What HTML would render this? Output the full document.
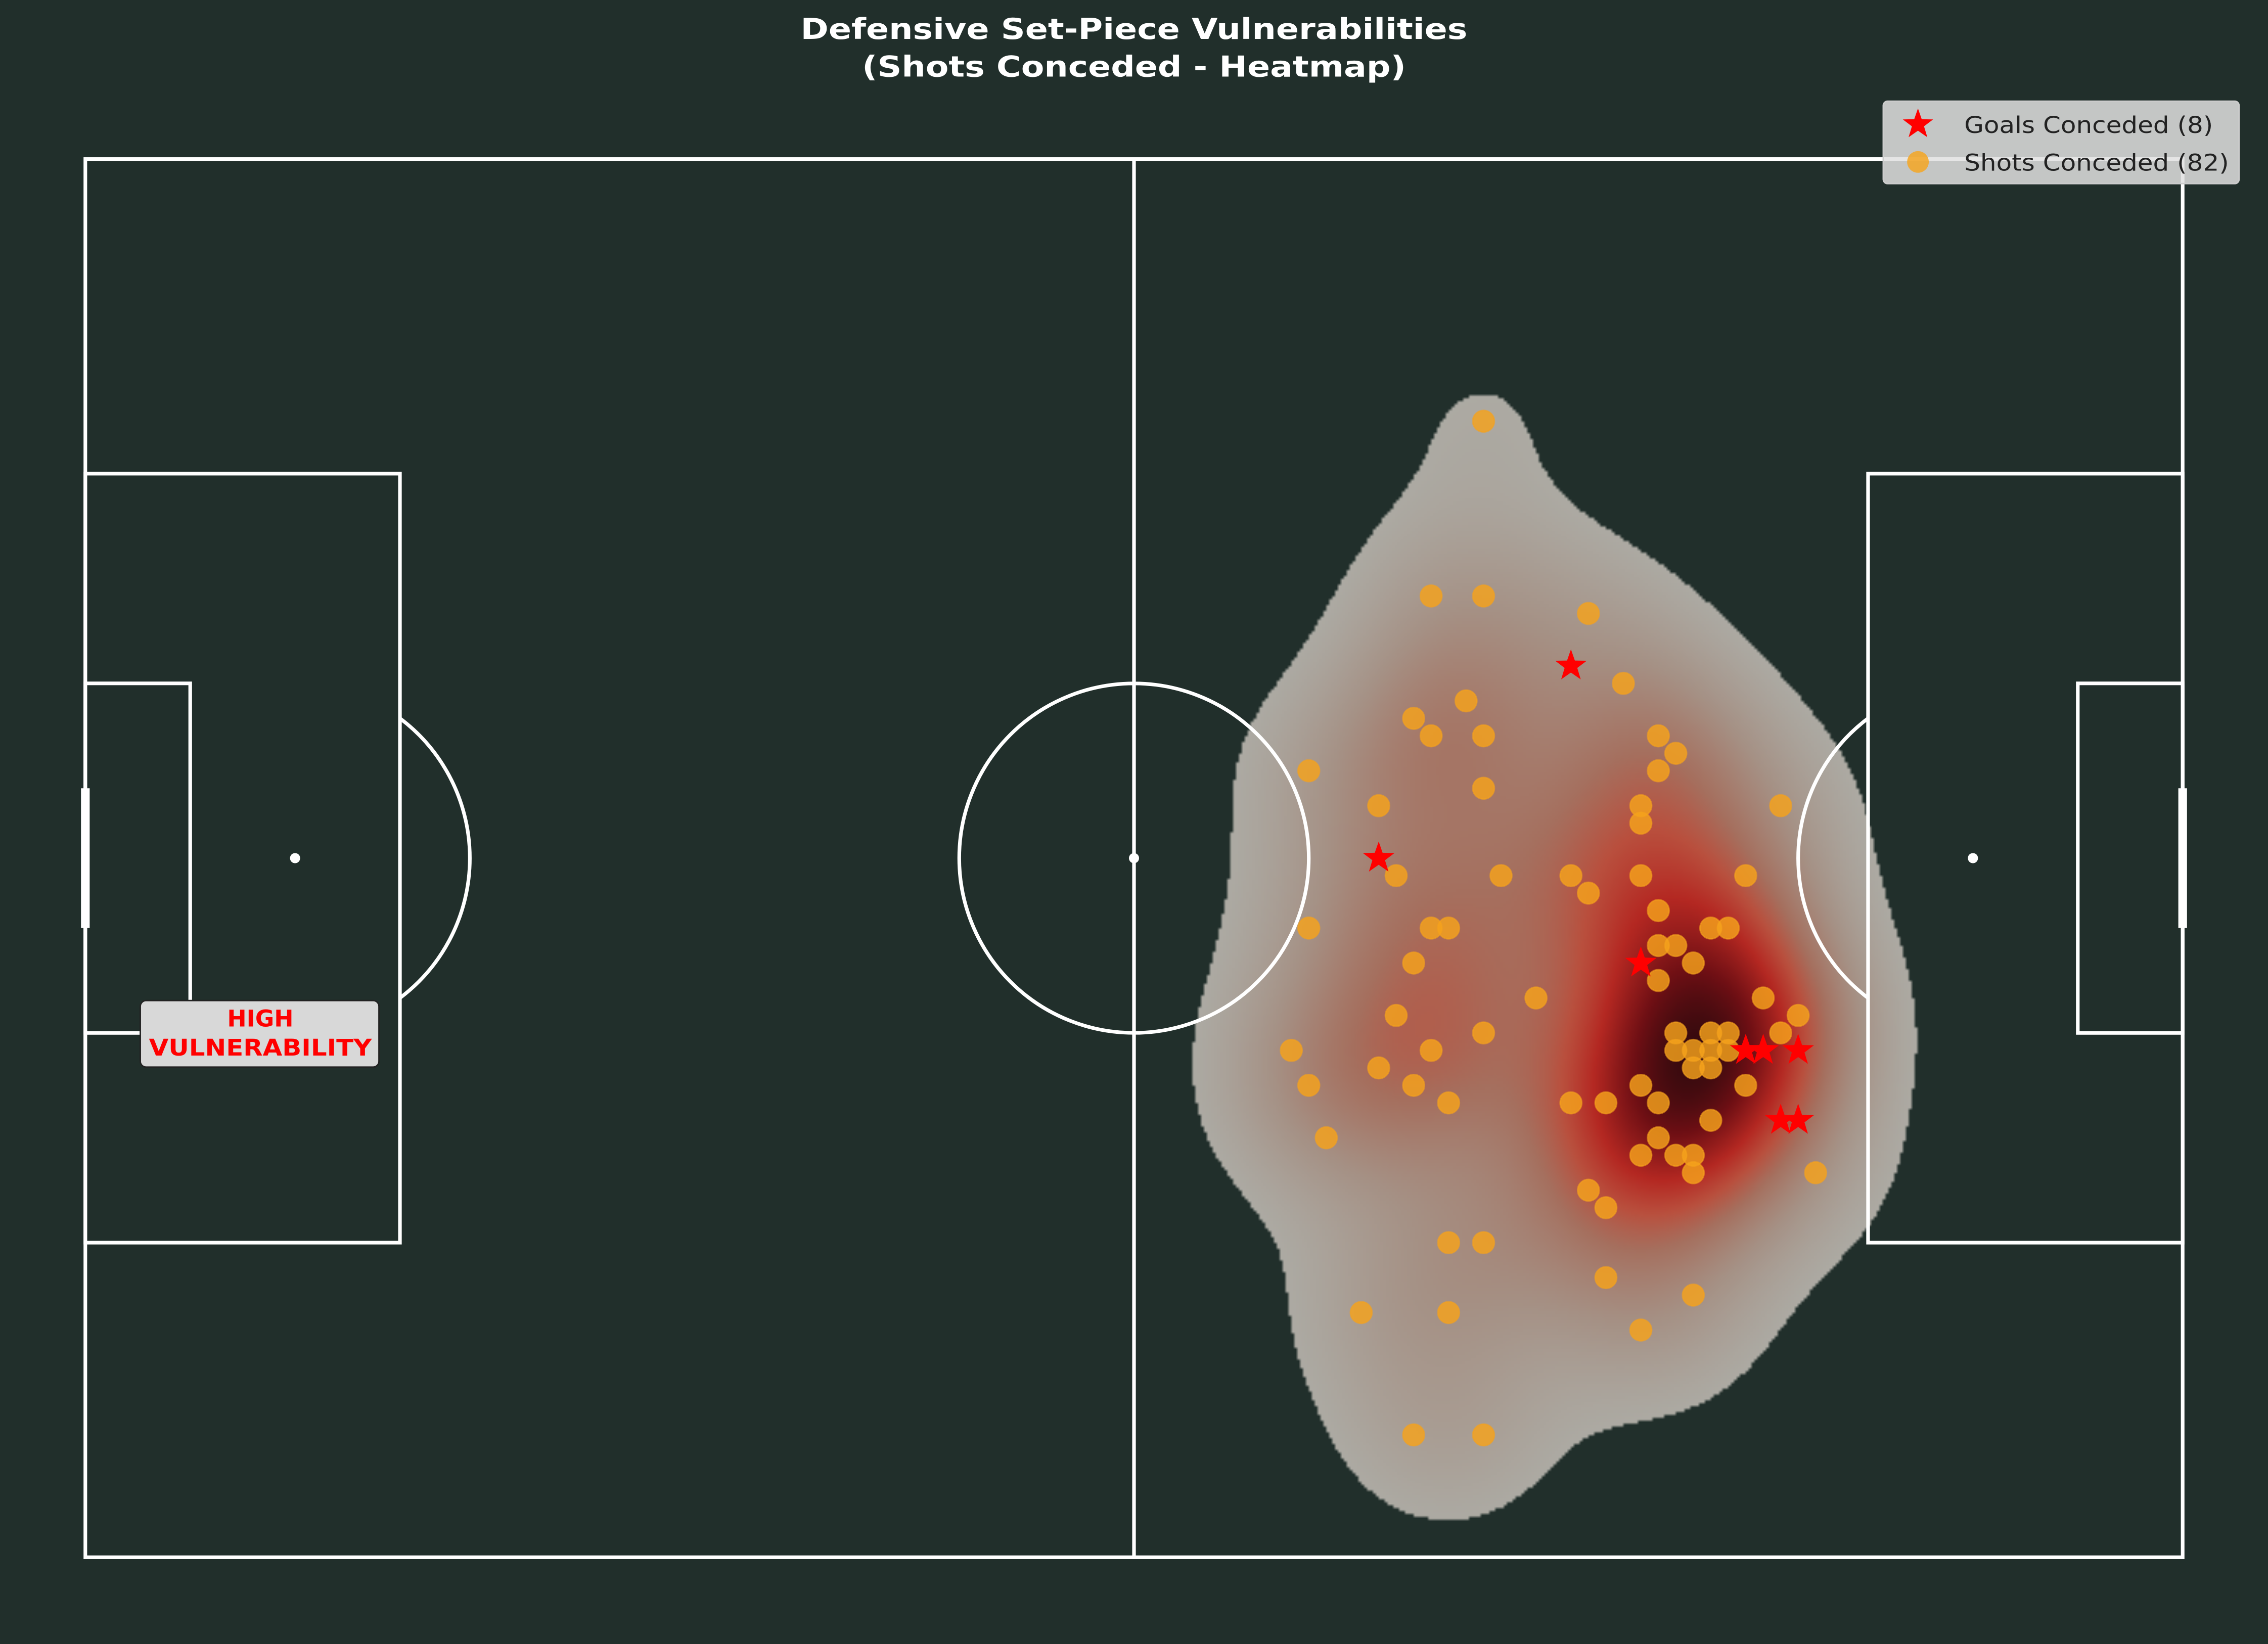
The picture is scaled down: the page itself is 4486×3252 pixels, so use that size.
<!DOCTYPE html>
<html><head><meta charset="utf-8"><style>
html,body{margin:0;padding:0;background:#212f2b;}
#wrap{position:relative;width:4486px;height:3252px;background:#212f2b;overflow:hidden;}
#heat{position:absolute;}
#svg{position:absolute;left:0;top:0;}
</style></head><body>
<div id="wrap">
<canvas id="heat"></canvas>
<svg id="svg" width="4486" height="3252" viewBox="0 0 1568 1137" preserveAspectRatio="none">
<text x="784" y="27" text-anchor="middle" fill="#fff" font-family="DejaVu Sans, sans-serif" font-weight="bold" font-size="20" textLength="461" lengthAdjust="spacingAndGlyphs">Defensive Set-Piece Vulnerabilities</text>
<text x="784" y="53" text-anchor="middle" fill="#fff" font-family="DejaVu Sans, sans-serif" font-weight="bold" font-size="20" textLength="376" lengthAdjust="spacingAndGlyphs">(Shots Conceded - Heatmap)</text>
<g id="lines" fill="none" stroke="#fff" stroke-width="2.5"></g>
<g id="marks"></g>
<g>
<rect x="1302" y="70" width="246" height="57" rx="3" fill="#e0e0e0" fill-opacity="0.85" stroke="#ccc"/>
<g>
<path id="legstar" fill="#ff0000"/>
<text x="1358" y="92" font-family="DejaVu Sans, sans-serif" font-size="16" fill="#222" textLength="172" lengthAdjust="spacingAndGlyphs">Goals Conceded (8)</text>
</g>
<g>
<circle cx="1326" cy="112" r="7.5" fill="#f5a623" fill-opacity="0.85"/>
<text x="1358" y="118" font-family="DejaVu Sans, sans-serif" font-size="16" fill="#222" textLength="183" lengthAdjust="spacingAndGlyphs">Shots Conceded (82)</text>
</g>
</g>
<g>
<rect x="97" y="692" width="165" height="46" rx="4" fill="#d8d8d8" stroke="#222" stroke-width="1"/>
<text x="180" y="710" text-anchor="middle" fill="#ff0000" font-family="DejaVu Sans, sans-serif" font-weight="bold" font-size="16">HIGH</text>
<text x="180" y="730" text-anchor="middle" fill="#ff0000" font-family="DejaVu Sans, sans-serif" font-weight="bold" font-size="16" textLength="154" lengthAdjust="spacingAndGlyphs">VULNERABILITY</text>
</g>
</svg>
</div>
<script>
const shotX=[80,77,80,86,88,76,79,77,80,90,91,70,90,74,80,89,89,97,75,81,85,86,89,95,70,77,78,90,93,94,76,90,91,92,90,83,96,75,98,80,91,93,94,97,69,77,91,92,93,94,74,92,93,70,76,89,95,78,85,87,90,93,71,90,89,91,92,92,99,86,87,78,80,87,92,73,78,89,76,80];
const shotY=[15,25,25,26,30,32,31,33,33,33,34,35,35,37,36,37,38,37,41,41,41,42,41,41,44,44,44,43,44,44,46,45,45,46,47,48,48,49,49,50,50,50,50,50,51,51,51,51,51,51,52,52,52,53,53,53,53,54,54,54,54,55,56,56,57,57,57,58,58,59,60,62,62,64,65,66,66,67,73,73];
const goalX=[85,74,89,95,96,98,97,98];
const goalY=[29,40,46,51,51,51,55,55];

const NS="http://www.w3.org/2000/svg";
const X0=59,Y0=110,SX=1450/120,SY=967/80;
function px(x){return X0+x*SX;}
function py(y){return Y0+y*SY;}
function mk(t,a,p){const e=document.createElementNS(NS,t);for(const k in a)e.setAttribute(k,a[k]);p.appendChild(e);return e;}
const L=document.getElementById('lines');
function rect(x,y,w,h,n){const e=mk('rect',{x:px(x),y:py(y),width:w*SX,height:h*SY},L);

}
rect(0,0,120,80,'pitch-outline');
rect(0,18,18,44,'left-penalty-box');rect(102,18,18,44,'right-penalty-box');
rect(0,30,6,20,'left-six-yard-box');rect(114,30,6,20,'right-six-yard-box');
let e=mk('line',{x1:px(60),y1:py(0),x2:px(60),y2:py(80)},L);


e=mk('circle',{cx:px(60),cy:py(40),r:10*SX},L);


const ang=Math.acos(6/10);const dy=10*Math.sin(ang);
e=mk('path',{d:`M${px(18)} ${py(40-dy)} A${10*SX} ${10*SY} 0 0 1 ${px(18)} ${py(40+dy)}`},L);


e=mk('path',{d:`M${px(102)} ${py(40-dy)} A${10*SX} ${10*SY} 0 0 0 ${px(102)} ${py(40+dy)}`},L);


e=mk('line',{x1:px(0),y1:py(36),x2:px(0),y2:py(44),'stroke-width':6},L);


e=mk('line',{x1:px(120),y1:py(36),x2:px(120),y2:py(44),'stroke-width':6},L);


[[12,'left-penalty-spot'],[60,'center-spot'],[108,'right-penalty-spot']].forEach(s=>{
 const c=mk('circle',{cx:px(s[0]),cy:py(40),r:3.5,fill:'#fff',stroke:'none'},L);
 
 
});
function star(cx,cy,R){const r=R*0.4;let d='';for(let i=0;i<10;i++){const a=-Math.PI/2+i*Math.PI/5;const rr=i%2?r:R;d+=(i?'L':'M')+(cx+rr*Math.cos(a)).toFixed(2)+' '+(cy+rr*Math.sin(a)).toFixed(2);}return d+'Z';}
document.getElementById('legstar').setAttribute('d',star(1326,86,11));
const M=document.getElementById('marks');
for(let i=0;i<shotX.length;i++){
 const c=mk('circle',{cx:px(shotX[i]),cy:py(shotY[i]),r:7.5,fill:'#f5a21c','fill-opacity':0.82,stroke:'#f5a21c','stroke-opacity':0.6},M);
 
 
}
for(let i=0;i<goalX.length;i++){
 const s=mk('path',{d:star(px(goalX[i]),py(goalY[i]),11.5),fill:'#ff0000'},M);
 
 
}
// heatmap KDE
const S=4486/1568;
const cv=document.getElementById('heat');
cv.style.left=(X0*S)+'px';cv.style.top=(Y0*S)+'px';
cv.style.width=(1450*S)+'px';cv.style.height=(967*S)+'px';
const W=720,H=480;cv.width=W;cv.height=H;
const ctx=cv.getContext('2d');const img=ctx.createImageData(W,H);
const bw=4.3;const dens=new Float32Array(W*H);let mx=0;
for(let j=0;j<H;j++)for(let i=0;i<W;i++){const x=(i+0.5)/W*120,y=(j+0.5)/H*80;let s=0;
 for(let k=0;k<shotX.length;k++){const dx=x-shotX[k],dy2=y-shotY[k];const d2=dx*dx+dy2*dy2;if(d2<400)s+=Math.exp(-d2/(2*bw*bw));}
 dens[j*W+i]=s;if(s>mx)mx=s;}
const stops=[[0,[172,170,163]],[0.15,[165,145,133]],[0.32,[165,112,95]],[0.45,[185,80,62]],[0.6,[180,40,34]],[0.82,[110,15,20]],[1,[55,10,14]]];
function col(t){for(let k=1;k<stops.length;k++){if(t<=stops[k][0]){const a=stops[k-1],b=stops[k];const f=(t-a[0])/(b[0]-a[0]);return a[1].map((v,q)=>v+(b[1][q]-v)*f);}}return stops[stops.length-1][1];}
const thr=0.055;
for(let p=0;p<W*H;p++){const t=dens[p]/mx;if(t<thr)continue;const c=col((t-thr)/(1-thr));
 img.data[p*4]=c[0];img.data[p*4+1]=c[1];img.data[p*4+2]=c[2];img.data[p*4+3]=255;}
ctx.putImageData(img,0,0);
</script>
</body></html>
